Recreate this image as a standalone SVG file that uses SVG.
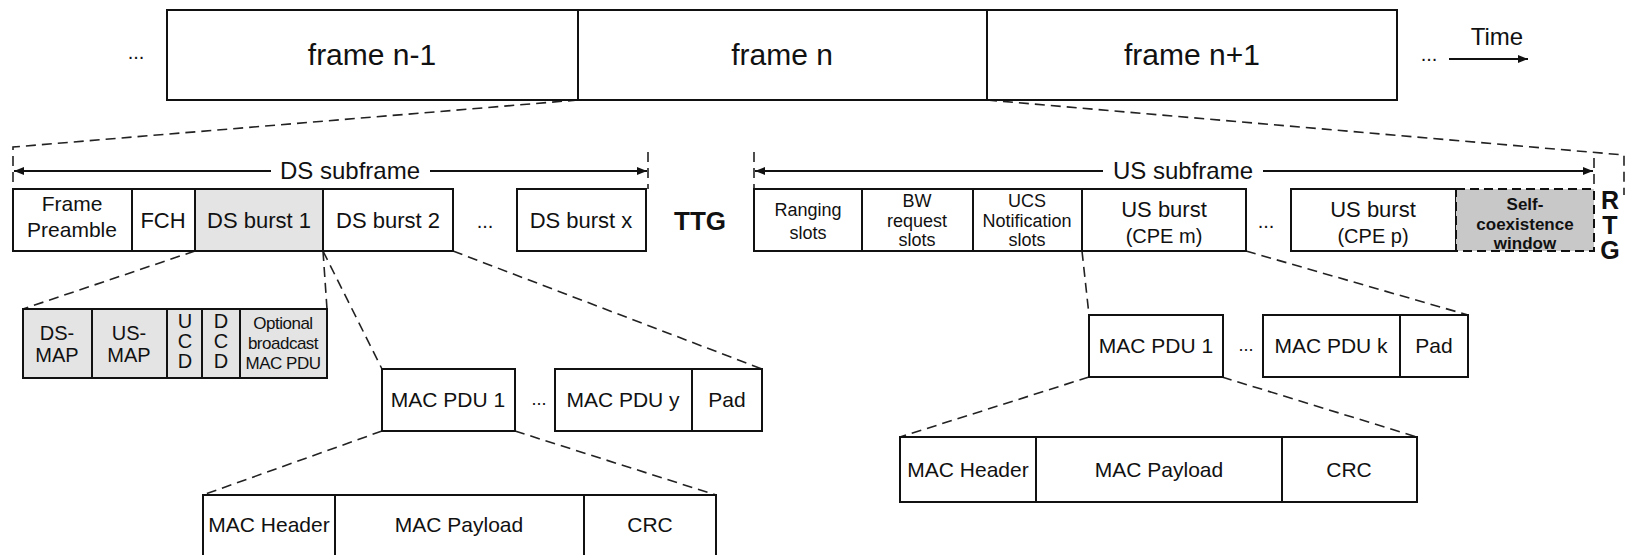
<svg xmlns="http://www.w3.org/2000/svg" width="1633" height="555" viewBox="0 0 1633 555">
<defs>
<marker id="ah" viewBox="0 0 10 8" refX="10" refY="4" markerWidth="10" markerHeight="8" markerUnits="userSpaceOnUse" orient="auto-start-reverse">
<path d="M0,0 L10,4 L0,8 z" fill="#111"/>
</marker>
<style>
.b{fill:#fff;stroke:#111;stroke-width:2}
.g{fill:#e4e4e4;stroke:#111;stroke-width:2}
.sc{fill:#c8c8c8;stroke:#111;stroke-width:2;stroke-dasharray:9 5}
.t{font-family:"Liberation Sans",Arial,sans-serif;fill:#111;text-anchor:middle}
.f30{font-size:30px}
.f24{font-size:24px}
.f22{font-size:22px}
.f21{font-size:21px}
.f20{font-size:20px}
.f18{font-size:18px}
.f17{font-size:17px}
.bold{font-weight:bold}
.d{fill:none;stroke:#222;stroke-width:1.6;stroke-dasharray:10 6}
.a{fill:none;stroke:#111;stroke-width:2}
</style>
</defs>

<g id="connectors">
<polyline class="d" points="578,100 13,147 13,189"/>
<polyline class="d" points="987,100 1624,155 1624,195"/>
<line class="d" x1="648" y1="152" x2="648" y2="189"/>
<line class="d" x1="754" y1="152" x2="754" y2="189"/>
<line class="d" x1="1594" y1="158" x2="1594" y2="189"/>
<line class="d" x1="195" y1="251" x2="23" y2="309"/>
<line class="d" x1="323" y1="251" x2="327" y2="309"/>
<line class="d" x1="323" y1="251" x2="382" y2="369"/>
<line class="d" x1="453" y1="251" x2="762" y2="369"/>
<line class="d" x1="382" y1="431" x2="203" y2="495"/>
<line class="d" x1="515" y1="431" x2="716" y2="495"/>
<line class="d" x1="1082" y1="251" x2="1089" y2="315"/>
<line class="d" x1="1246" y1="251" x2="1468" y2="315"/>
<line class="d" x1="1089" y1="377" x2="900" y2="437"/>
<line class="d" x1="1222" y1="377" x2="1417" y2="437"/>
<line class="a" x1="271" y1="171" x2="14" y2="171" marker-end="url(#ah)"/>
<line class="a" x1="430" y1="171" x2="647" y2="171" marker-end="url(#ah)"/>
<line class="a" x1="1103" y1="171" x2="755" y2="171" marker-end="url(#ah)"/>
<line class="a" x1="1263" y1="171" x2="1593" y2="171" marker-end="url(#ah)"/>
<line class="a" x1="1449" y1="59" x2="1528" y2="59" marker-end="url(#ah)"/>
</g>

<g id="time">
<text class="t f24" x="1497" y="45">Time</text>
<text class="t f20" x="1429" y="61">...</text>
<text class="t f20" x="136" y="59">...</text>
</g>

<g id="frames">
<rect class="b" x="167" y="10" width="411" height="90"/>
<rect class="b" x="578" y="10" width="409" height="90"/>
<rect class="b" x="987" y="10" width="410" height="90"/>
<text class="t f30" x="372" y="65">frame n-1</text>
<text class="t f30" x="782" y="65">frame n</text>
<text class="t f30" x="1192" y="65">frame n+1</text>
</g>

<g id="ds-subframe-label">
<text class="t f24" x="350" y="179">DS subframe</text>
</g>
<g id="us-subframe-label">
<text class="t f24" x="1183" y="179">US subframe</text>
</g>

<g id="ds-row">
<rect class="b" x="13" y="189" width="119" height="62"/>
<text class="t f21" x="72" y="211">Frame</text>
<text class="t f21" x="72" y="237">Preamble</text>
<rect class="b" x="132" y="189" width="63" height="62"/>
<text class="t f22" x="163" y="228">FCH</text>
<rect class="g" x="195" y="189" width="128" height="62"/>
<text class="t f22" x="259" y="228">DS burst 1</text>
<rect class="b" x="323" y="189" width="130" height="62"/>
<text class="t f22" x="388" y="228">DS burst 2</text>
<text class="t f20" x="485" y="228">...</text>
<rect class="b" x="517" y="189" width="129" height="62"/>
<text class="t f22" x="581" y="228">DS burst x</text>
<text class="t bold" style="font-size:26px" x="700" y="230">TTG</text>
</g>

<g id="us-row">
<rect class="b" x="754" y="189" width="108" height="62"/>
<text class="t f18" x="808" y="216">Ranging</text>
<text class="t f18" x="808" y="239">slots</text>
<rect class="b" x="862" y="189" width="111" height="62"/>
<text class="t f18" x="917" y="207">BW</text>
<text class="t f18" x="917" y="227">request</text>
<text class="t f18" x="917" y="246">slots</text>
<rect class="b" x="973" y="189" width="109" height="62"/>
<text class="t f18" x="1027" y="207">UCS</text>
<text class="t f18" x="1027" y="227">Notification</text>
<text class="t f18" x="1027" y="246">slots</text>
<rect class="b" x="1082" y="189" width="164" height="62"/>
<text class="t f22" x="1164" y="217">US burst</text>
<text class="t f20" x="1164" y="243">(CPE m)</text>
<text class="t f20" x="1266" y="228">...</text>
<rect class="b" x="1291" y="189" width="165" height="62"/>
<text class="t f22" x="1373" y="217">US burst</text>
<text class="t f20" x="1373" y="243">(CPE p)</text>
<rect class="sc" x="1456" y="189" width="138" height="62"/>
<text class="t bold f17" x="1525" y="210">Self-</text>
<text class="t bold f17" x="1525" y="230">coexistence</text>
<text class="t bold f17" x="1525" y="249">window</text>
<text class="t bold" style="font-size:25px" x="1610" y="209">R</text>
<text class="t bold" style="font-size:25px" x="1610" y="234">T</text>
<text class="t bold" style="font-size:25px" x="1610" y="259">G</text>
</g>

<g id="ds-burst1-detail">
<rect class="g" x="23" y="309" width="69" height="69"/>
<text class="t f20" x="57" y="340">DS-</text>
<text class="t f20" x="57" y="362">MAP</text>
<rect class="g" x="92" y="309" width="75" height="69"/>
<text class="t f20" x="129" y="340">US-</text>
<text class="t f20" x="129" y="362">MAP</text>
<rect class="g" x="167" y="309" width="35" height="69"/>
<text class="t f20" x="185" y="328">U</text>
<text class="t f20" x="185" y="348">C</text>
<text class="t f20" x="185" y="368">D</text>
<rect class="g" x="202" y="309" width="38" height="69"/>
<text class="t f20" x="221" y="328">D</text>
<text class="t f20" x="221" y="348">C</text>
<text class="t f20" x="221" y="368">D</text>
<rect class="g" x="240" y="309" width="87" height="69"/>
<text class="t f17" x="283" y="329" letter-spacing="-0.5">Optional</text>
<text class="t f17" x="283" y="349" letter-spacing="-0.5">broadcast</text>
<text class="t f17" x="283" y="369" letter-spacing="-0.5">MAC PDU</text>
</g>

<g id="ds-burst2-detail">
<rect class="b" x="382" y="369" width="133" height="62"/>
<text class="t f21" x="448" y="407">MAC PDU 1</text>
<text class="t f18" x="539" y="405">...</text>
<rect class="b" x="555" y="369" width="137" height="62"/>
<text class="t f21" x="623" y="407">MAC PDU y</text>
<rect class="b" x="692" y="369" width="70" height="62"/>
<text class="t f21" x="727" y="407">Pad</text>
</g>

<g id="ds-pdu-detail">
<rect class="b" x="203" y="495" width="132" height="66"/>
<text class="t f21" x="269" y="532">MAC Header</text>
<rect class="b" x="335" y="495" width="249" height="66"/>
<text class="t f21" x="459" y="532">MAC Payload</text>
<rect class="b" x="584" y="495" width="132" height="66"/>
<text class="t f21" x="650" y="532">CRC</text>
</g>

<g id="us-burst-detail">
<rect class="b" x="1089" y="315" width="134" height="62"/>
<text class="t f21" x="1156" y="353">MAC PDU 1</text>
<text class="t f18" x="1246" y="351">...</text>
<rect class="b" x="1263" y="315" width="137" height="62"/>
<text class="t f21" x="1331" y="353">MAC PDU k</text>
<rect class="b" x="1400" y="315" width="68" height="62"/>
<text class="t f21" x="1434" y="353">Pad</text>
</g>

<g id="us-pdu-detail">
<rect class="b" x="900" y="437" width="136" height="65"/>
<text class="t f21" x="968" y="477">MAC Header</text>
<rect class="b" x="1036" y="437" width="246" height="65"/>
<text class="t f21" x="1159" y="477">MAC Payload</text>
<rect class="b" x="1282" y="437" width="135" height="65"/>
<text class="t f21" x="1349" y="477">CRC</text>
</g>
</svg>
